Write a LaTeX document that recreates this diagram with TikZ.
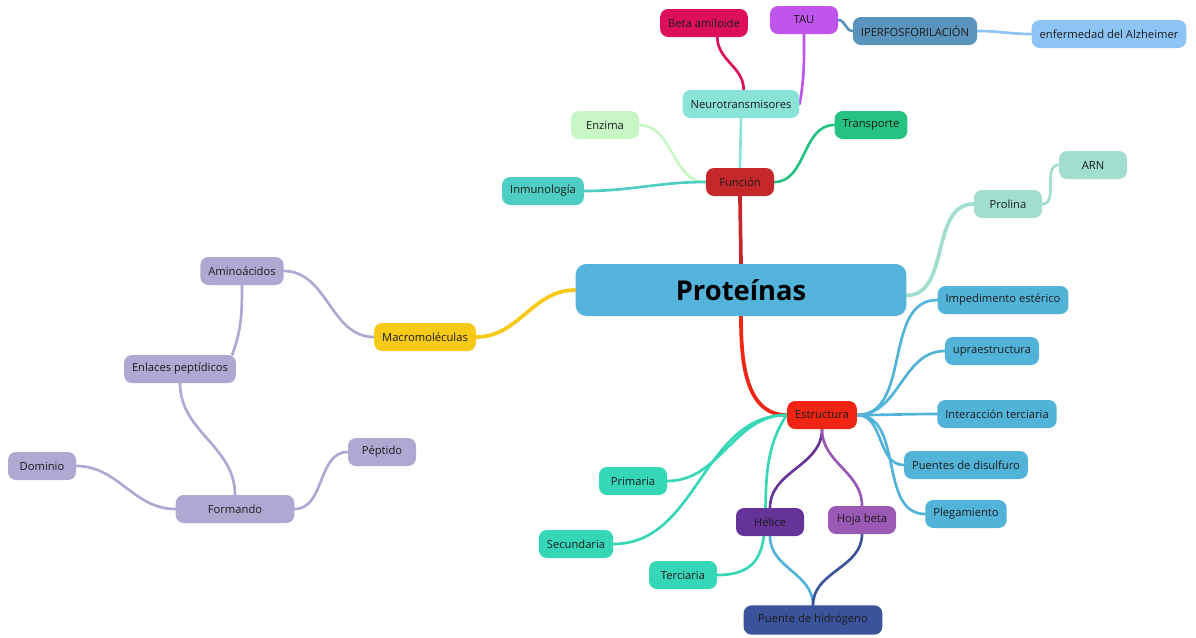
\documentclass[tikz,border=0pt]{standalone}
\usepackage{fontspec}
\setmainfont{Open Sans}
\usepackage{tikz}
\usetikzlibrary{positioning,backgrounds}

% colours of the branches
\definecolor{rootblue}{HTML}{54B3DA}
\definecolor{funcred}{HTML}{C4282B}
\definecolor{estred}{HTML}{F02514}
\definecolor{neuroteal}{HTML}{8AE3D7}
\definecolor{betapink}{HTML}{DC0F5B}
\definecolor{taupurple}{HTML}{BF55EC}
\definecolor{steelblue}{HTML}{5A93BB}
\definecolor{skyblue}{HTML}{8CC4F5}
\definecolor{palegreen}{HTML}{C8F7C5}
\definecolor{transgreen}{HTML}{26C281}
\definecolor{inmuteal}{HTML}{4ECDC4}
\definecolor{mint}{HTML}{A2DED0}
\definecolor{macroyellow}{HTML}{F7CA18}
\definecolor{lavender}{HTML}{AEA8D3}
\definecolor{strucblue}{HTML}{52B3D9}
\definecolor{levelteal}{HTML}{36D7B7}
\definecolor{helixpurple}{HTML}{663399}
\definecolor{sheetpurple}{HTML}{9B59B6}
\definecolor{hbondblue}{HTML}{3A539B}
\definecolor{ink}{HTML}{1C1C1C}

\begin{document}
\begin{tikzpicture}[
    x=0.75pt, y=-0.75pt,
    % boxes of the map
    topic/.style={rounded corners=6pt, fill=#1, text=ink, font=\fontsize{8.4}{10}\selectfont,
                  minimum height=21pt, minimum width=51pt, inner xsep=6pt},
    root/.style={rounded corners=8pt, fill=rootblue, text=black,
                 font=\fontsize{20.5}{24}\selectfont\bfseries, minimum width=248pt, minimum height=39pt},
    % branches between boxes
    link/.style={draw=#1, line width=2pt, line cap=round},
    thick link/.style={draw=#1, line width=2.8pt, line cap=round}
  ]
  \useasboundingbox (0,0) rectangle (1196,637);

  % --- centre ---
  \node[root] (prot) at (741,290) {Proteínas};

  % --- Función branch ---
  \node[topic=funcred] (func) at (740,182) {Función};
  \node[topic=neuroteal] (neuro) at (741,104) {Neurotransmisores};
  \node[topic=betapink] (beta) at (704,23) {Beta amiloide};
  \node[topic=taupurple] (tau) at (804,20) {TAU};
  \node[topic=steelblue] (iperf) at (915,31) {IPERFOSFORILACIÓN};
  \node[topic=skyblue] (alz) at (1109,34) {enfermedad del Alzheimer};
  \node[topic=palegreen] (enz) at (605,125) {Enzima};
  \node[topic=transgreen] (trans) at (871,125) {Transporte};
  \node[topic=inmuteal] (inmu) at (543,191) {Inmunología};

  % --- Prolina branch ---
  \node[topic=mint] (prol) at (1008,204) {Prolina};
  \node[topic=mint] (arn) at (1093,165) {ARN};

  % --- Macromoléculas branch ---
  \node[topic=macroyellow] (macro) at (425,337) {Macromoléculas};
  \node[topic=lavender] (amino) at (242,271) {Aminoácidos};
  \node[topic=lavender] (enl) at (180,369) {Enlaces peptídicos};
  \node[topic=lavender, minimum width=89pt] (form) at (235,509) {Formando};
  \node[topic=lavender] (dom) at (42,466) {Dominio};
  \node[topic=lavender] (pep) at (382,452) {Péptido};

  % --- Estructura branch ---
  \node[topic=estred] (estr) at (822,415) {Estructura};
  \node[topic=strucblue] (imped) at (1003,300) {Impedimento estérico};
  \node[topic=strucblue] (supra) at (992,351) {upraestructura};
  \node[topic=strucblue] (inter) at (997,414) {Interacción terciaria};
  \node[topic=strucblue] (disulf) at (966,465) {Puentes de disulfuro};
  \node[topic=strucblue] (pleg) at (966,514) {Plegamiento};
  \node[topic=levelteal] (prim) at (633,481) {Primaria};
  \node[topic=levelteal] (sec) at (576,544) {Secundaria};
  \node[topic=levelteal] (terc) at (683,575) {Terciaria};
  \node[topic=helixpurple] (hel) at (770,522) {Hélice};
  \node[topic=sheetpurple] (hoja) at (862,520) {Hoja beta};
  \node[topic=hbondblue, minimum width=104pt, minimum height=22pt] (hbond) at (813,620) {Puente de hidrógeno};

  % --- branches ---
  \begin{scope}[on background layer]
    \draw[thick link=funcred] (prot.north) -- (func.south);
    \draw[thick link=estred] (prot.south) to[out=-90,in=180] (estr.west);
    \draw[thick link=macroyellow] (prot.west) to[out=180,in=0] (macro.east);
    \draw[thick link=mint] ([yshift=-4]prot.east) to[out=0,in=180] (prol.west);

    \draw[link=neuroteal] (func.north) -- (neuro.south);
    \draw[link=palegreen] (func.west) to[out=180,in=0] (enz.east);
    \draw[link=inmuteal] (func.west) to[out=180,in=0] (inmu.east);
    \draw[link=transgreen] (func.east) to[out=0,in=180] (trans.west);
    \draw[link=betapink] ([xshift=2]neuro.north) to[out=90,in=-90] ([xshift=10]beta.south);
    \draw[link=taupurple] (neuro.east) to[out=80,in=-90] (tau.south);
    \draw[link=steelblue] (tau.east) to[out=0,in=180] (iperf.west);
    \draw[link=skyblue] (iperf.east) to[out=0,in=180] (alz.west);
    \draw[link=mint] (prol.east) to[out=0,in=180] (arn.west);

    \draw[link=lavender] (macro.west) to[out=180,in=0] (amino.east);
    \draw[link=lavender] (amino.south) to[out=-90,in=70] ([xshift=-3]enl.north east);
    \draw[link=lavender] (enl.south) to[out=-90,in=90] (form.north);
    \draw[link=lavender] (form.west) to[out=180,in=0] (dom.east);
    \draw[link=lavender] (form.east) to[out=0,in=180] (pep.west);

    \foreach \leaf in {imped,supra,inter,disulf,pleg}
      \draw[link=strucblue] (estr.east) to[out=0,in=180] (\leaf.west);
    \draw[link=levelteal] (estr.west) to[out=180,in=0] (prim.east);
    \draw[link=levelteal] (estr.west) to[out=180,in=0] (sec.east);
    \draw[link=levelteal] (estr.west) to[out=235,in=0,looseness=1.2] (terc.east);
    \draw[link=helixpurple] (estr.south) to[out=-90,in=90] (hel.north);
    \draw[link=sheetpurple] (estr.south) to[out=-90,in=90] (hoja.north);
    \draw[link=strucblue] (hel.south) to[out=-90,in=90] (hbond.north);
    \draw[link=hbondblue] (hoja.south) to[out=-90,in=90] (hbond.north);
  \end{scope}
\end{tikzpicture}
\end{document}
